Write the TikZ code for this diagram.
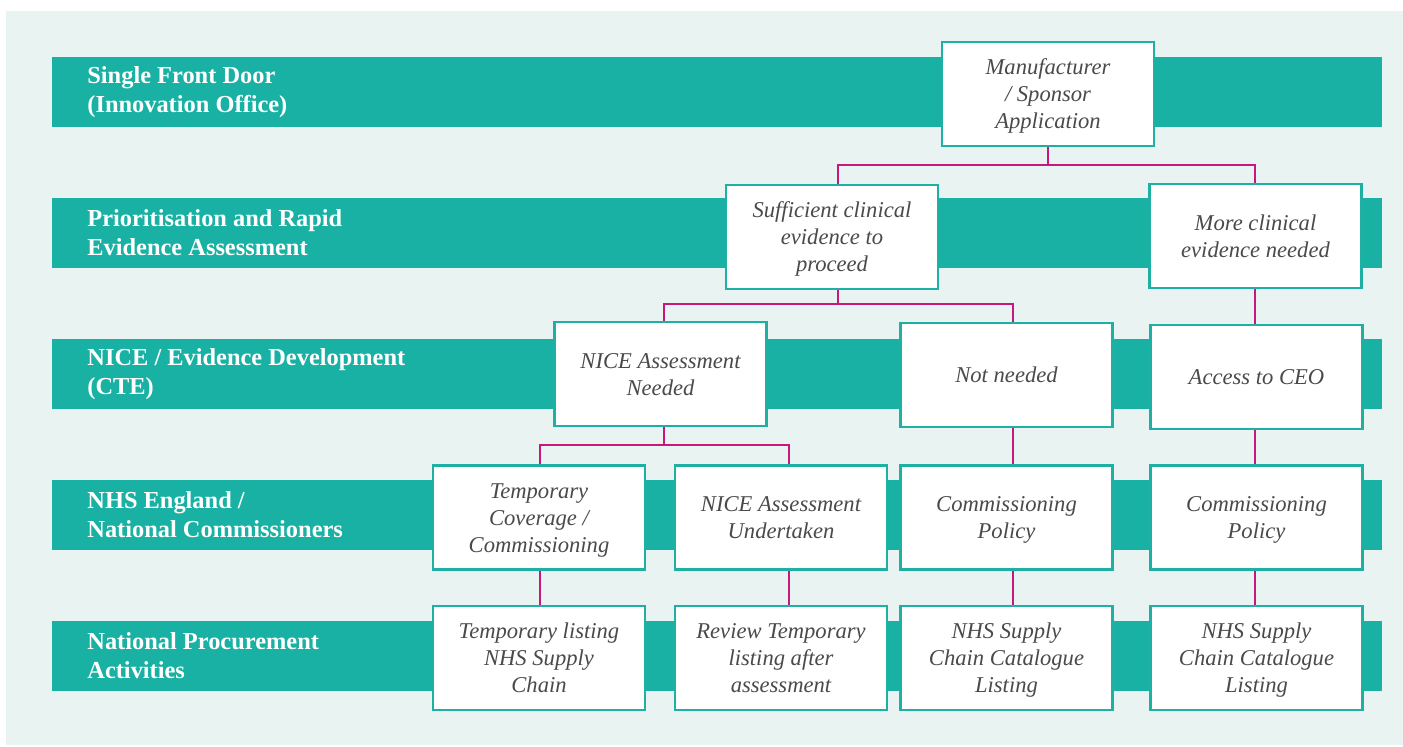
\documentclass[tikz,border=0pt]{standalone}
\usepackage{fontspec}
\setmainfont{Liberation Serif}
\definecolor{panel}{HTML}{E9F3F1}
\definecolor{band}{HTML}{19B1A3}
\definecolor{boxline}{HTML}{1DB0A3}
\definecolor{conn}{HTML}{C8177F}
\definecolor{txt}{HTML}{4A4A4A}
\newcommand{\boxtxt}[1]{\raisebox{-1.3pt}[\height][\depth]{\begin{tabular}{@{}c@{}}#1\end{tabular}}}
\tikzset{
  bandrect/.style={fill=band, draw=none},
  bandlabel/.style={anchor=west, text=white, align=left, inner sep=0pt,
    font=\fontsize{12.2}{14.5}\selectfont\bfseries},
  flowbox/.style={draw=boxline, line width=1.3pt, fill=white, minimum width=106pt,
    minimum height=52pt, inner sep=0pt, text=txt,
    font=\fontsize{11.3}{13.5}\selectfont\itshape\renewcommand{\arraystretch}{1}},
  connline/.style={draw=conn, line width=1.1pt},
}
\begin{document}
\begin{tikzpicture}[x=0.5pt,y=-0.5pt]
\useasboundingbox (0,0) rectangle (1403,747);
\fill[panel] (6,11) rectangle (1403,745);
% bands
\foreach \t in {57,198,339,480,621}{
  \fill[bandrect] (52,\t) rectangle (1382,\t+70);
}
\node[bandlabel] (l1) at (87,92) {Single Front Door\\(Innovation Office)};
\node[bandlabel] (l2) at (87,233) {Prioritisation and Rapid\\Evidence Assessment};
\node[bandlabel] (l3) at (87,374) {NICE / Evidence Development\\(CTE)};
\node[bandlabel] (l4) at (87,515) {NHS England /\\National Commissioners};
\node[bandlabel] (l5) at (87,656) {National Procurement\\Activities};
% junction coordinates
\coordinate (j1) at (1048,165);
\coordinate (j2) at (838,304);
\coordinate (j3) at (664,445);
% box centres
\coordinate (m) at (1048,94);
\coordinate (suf) at (832,237);
\coordinate (more) at (1255.5,236);
\coordinate (nice) at (660.5,374);
\coordinate (notn) at (1006.5,375);
\coordinate (ceo) at (1256.5,377);
\coordinate (temp) at (539,517.5);
\coordinate (und) at (781,517.5);
\coordinate (cpa) at (1006.5,517.5);
\coordinate (cpb) at (1256.5,517.5);
\coordinate (tl) at (539,658);
\coordinate (rev) at (781,658);
\coordinate (nhsa) at (1006.5,658);
\coordinate (nhsb) at (1256.5,658);
% connectors (drawn first, boxes on top)
\draw[connline] (m) -- (j1);
\draw[connline] (j1) -| (838,237);
\draw[connline] (j1) -| (1255,236);
\draw[connline] (838,237) -- (j2);
\draw[connline] (j2) -| (664,374);
\draw[connline] (j2) -| (1013,375);
\draw[connline] (1255,236) -- (1255,377);
\draw[connline] (664,374) -- (j3);
\draw[connline] (j3) -| (540,517);
\draw[connline] (j3) -| (789,517);
\draw[connline] (1013,375) -- (1013,658);
\draw[connline] (1255,377) -- (1255,658);
\draw[connline] (540,517) -- (540,658);
\draw[connline] (789,517) -- (789,658);
% boxes
\node[flowbox] (nm) at (m) {\boxtxt{Manufacturer\\/ Sponsor\\Application}};
\node[flowbox] (nsuf) at (suf) {\boxtxt{Sufficient clinical\\evidence to\\proceed}};
\node[flowbox] (nmore) at (more) {\boxtxt{More clinical\\evidence needed}};
\node[flowbox] (nnice) at (nice) {\boxtxt{NICE Assessment\\Needed}};
\node[flowbox] (nnotn) at (notn) {\boxtxt{Not needed}};
\node[flowbox] (nceo) at (ceo) {\boxtxt{Access to CEO}};
\node[flowbox] (ntemp) at (temp) {\boxtxt{Temporary\\Coverage /\\Commissioning}};
\node[flowbox] (nund) at (und) {\boxtxt{NICE Assessment\\Undertaken}};
\node[flowbox] (ncpa) at (cpa) {\boxtxt{Commissioning\\Policy}};
\node[flowbox] (ncpb) at (cpb) {\boxtxt{Commissioning\\Policy}};
\node[flowbox] (ntl) at (tl) {\boxtxt{Temporary listing\\NHS Supply\\Chain}};
\node[flowbox] (nrev) at (rev) {\boxtxt{Review Temporary\\listing after\\assessment}};
\node[flowbox] (nnhsa) at (nhsa) {\boxtxt{NHS Supply\\Chain Catalogue\\Listing}};
\node[flowbox] (nnhsb) at (nhsb) {\boxtxt{NHS Supply\\Chain Catalogue\\Listing}};
\end{tikzpicture}
\end{document}
